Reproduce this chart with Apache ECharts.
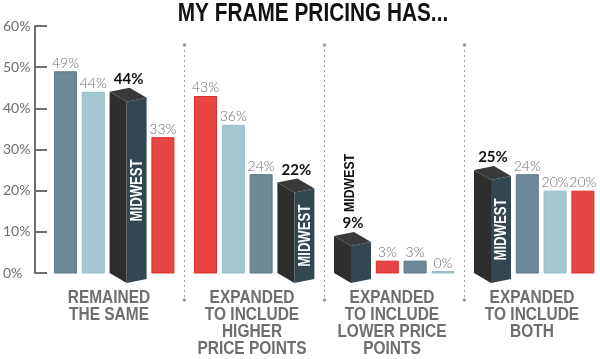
<!DOCTYPE html>
<html>
<head>
<meta charset="utf-8">
<script src="https://cdn.jsdelivr.net/npm/echarts@6/dist/echarts.min.js"></script>
<style>
html,body{margin:0;padding:0;background:#fff;}
#chart{width:600px;height:359px;}
</style>
</head>
<body>
<div id="chart"></div>
<script>
// ---- data ----
const title = 'MY FRAME PRICING HAS...';
const categories = ['REMAINED\nTHE SAME', 'EXPANDED\nTO INCLUDE\nHIGHER\nPRICE POINTS', 'EXPANDED\nTO INCLUDE\nLOWER PRICE\nPOINTS', 'EXPANDED\nTO INCLUDE\nBOTH'];
const slateValues = [49, 24, 3, 24];
const lightBlueValues = [44, 36, 0, 20];
const redValues = [33, 43, 3, 20];
const midwestValues = [44, 22, 9, 25];
const barOrder = [
  ['slate', 'light', 'midwest', 'red'],
  ['red', 'light', 'slate', 'midwest'],
  ['midwest', 'red', 'slate', 'light'],
  ['midwest', 'slate', 'light', 'red']
];
const yTicks = [0, 10, 20, 30, 40, 50, 60];
const midwestLabel = 'MIDWEST';

// ---- styles ----
const seriesStyle = {
  slate: { fill: '#6f8a97', stroke: '#5d7784', values: slateValues },
  light: { fill: '#a4c8d0', stroke: '#97bcc5', values: lightBlueValues },
  red:   { fill: '#e84545', stroke: '#dc2e2e', values: redValues },
  midwest: { values: midwestValues }
};
const GRAY = '#6d6e71';
const COND = '"Liberation Sans", Arial, sans-serif';

const chart = echarts.init(document.getElementById('chart'));

function renderGroup(params, api) {
  const gi = params.dataIndex;
  const bandW = api.size([1, 0])[0];
  const base = api.coord([gi, 0]);
  const bandLeft = base[0] - bandW / 2;
  const y0 = base[1];
  const children = [];
  let x = bandLeft + 10;
  const step = 4.8;
  const bw = 23;
  barOrder[gi].forEach(function (key) {
    const v = seriesStyle[key].values[gi];
    const yTop = api.coord([gi, v])[1];
    if (key === 'midwest') {
      const x0 = x, x1 = x + 17, x2 = x + 37;
      const d = 10, e = 6;
      children.push({ type: 'polygon', shape: { points: [[x0, yTop], [x1, yTop + d], [x1, y0 + d], [x0, y0]] }, style: { fill: '#2e2e2e' } });
      children.push({ type: 'polygon', shape: { points: [[x1, yTop + d], [x2, yTop + e], [x2, y0 + e], [x1, y0 + d]] }, style: { fill: '#34464f' } });
      children.push({ type: 'polygon', shape: { points: [[x0, yTop], [x0 + 20, yTop - 4], [x2, yTop + e], [x1, yTop + d]] }, style: { fill: '#3a3a3a' } });
      children.push({ type: 'text', style: { text: v + '%', x: x0 + 19, y: yTop - 5, align: 'center', verticalAlign: 'bottom', fill: '#111', font: 'bold 15px Lato, "Open Sans", sans-serif' } });
      const frontH = y0 - yTop;
      if (frontH > 80) {
        children.push({ type: 'text', rotation: Math.PI / 2, scaleX: 0.82, x: (x1 + x2) / 2 + 1, y: (yTop + d + y0 + e) / 2,
          style: { text: midwestLabel, x: 0, y: 0, align: 'center', verticalAlign: 'middle', fill: '#fff', font: 'bold 16px ' + COND } });
      } else {
        children.push({ type: 'text', rotation: Math.PI / 2, scaleX: 0.82, x: x0 + 16, y: yTop - 24,
          style: { text: midwestLabel, x: 0, y: 0, align: 'left', verticalAlign: 'middle', fill: '#111', font: 'bold 15px ' + COND } });
      }
      x += 37 + step;
    } else {
      const st = seriesStyle[key];
      const h = Math.max(y0 - yTop, 2);
      children.push({ type: 'rect', shape: { x: x + 0.5, y: y0 - h + 0.5, width: bw - 1, height: h - 0.5 }, style: { fill: st.fill, stroke: st.stroke, lineWidth: 1 } });
      children.push({ type: 'text', style: { text: v + '%', x: x + bw / 2, y: y0 - h - 1, align: 'center', verticalAlign: 'bottom', fill: GRAY, font: '300 14px Lato, "Open Sans", sans-serif' } });
      x += bw + step;
    }
  });
  // category label
  children.push({ type: 'text', x: base[0] - (gi === 0 ? 5 : 2), y: y0 + 17, scaleX: 0.86,
    style: { text: categories[gi], x: 0, y: 0, align: 'center', verticalAlign: 'top', fill: GRAY, font: 'bold 18px ' + COND, lineHeight: 17 } });
  if (gi < categories.length - 1) {
    const dx = Math.round(bandLeft + bandW) + 0.5;
    const top = y0 - 228, bot = y0 + 27;
    children.push({ type: 'line', shape: { x1: dx, y1: top, x2: dx, y2: bot }, style: { stroke: '#a0a0a0', lineWidth: 1, lineDash: [2, 3] } });
    children.push({ type: 'circle', shape: { cx: dx, cy: top, r: 1.8 }, style: { fill: '#a0a0a0' } });
    children.push({ type: 'circle', shape: { cx: dx, cy: bot, r: 1.8 }, style: { fill: '#a0a0a0' } });
  }
  return { type: 'group', children: children };
}

chart.setOption({
  animation: false,
  graphic: [{
    type: 'text', x: 313, y: 1, scaleX: 0.8,
    style: { text: title, x: 0, y: 0, align: 'center', verticalAlign: 'top', fill: '#111', font: 'bold 26px ' + COND }
  }],
  grid: { left: 44, right: -4, top: 26, bottom: 86, containLabel: false, outerBoundsMode: 'none' },
  xAxis: {
    type: 'category', data: categories,
    axisLine: { show: false }, axisTick: { show: false }, axisLabel: { show: false }
  },
  yAxis: {
    type: 'value', min: 0, max: 60, interval: 10, offset: 9,
    axisLine: { show: true, lineStyle: { color: GRAY, width: 2 } },
    axisTick: { show: true, inside: true, length: 12, lineStyle: { color: GRAY, width: 2 } },
    splitLine: { show: false },
    axisLabel: { align: 'left', margin: 32, color: GRAY, fontSize: 14, fontFamily: 'Lato, "Open Sans", sans-serif', formatter: function (v) { return yTicks.indexOf(v) >= 0 ? v + '%' : ''; } }
  },
  series: [{
    type: 'custom', clip: false,
    renderItem: renderGroup,
    data: categories.map(function (c, i) { return [i, midwestValues[i]]; })
  }]
});
</script>
</body>
</html>
